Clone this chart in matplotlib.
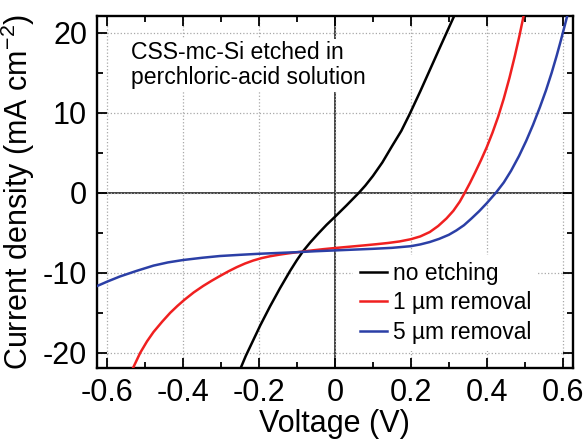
import matplotlib
matplotlib.use("Agg")
import matplotlib.pyplot as plt
from matplotlib.ticker import MultipleLocator

plt.rcParams['font.family'] = ['Liberation Sans', 'DejaVu Sans']
plt.rcParams['mathtext.fontset'] = 'custom'
plt.rcParams['mathtext.rm'] = 'Liberation Sans'
plt.rcParams['axes.unicode_minus'] = False

# J-V curves (V in volts, J in mA/cm2)
v_none = [-0.25, -0.235, -0.215, -0.197, -0.171, -0.145, -0.118, -0.10, -0.084,
          -0.065, -0.044, -0.022, 0.0, 0.03, 0.063, 0.08, 0.10, 0.125, 0.15,
          0.175, 0.197, 0.225, 0.25, 0.275, 0.295, 0.317]
j_none = [-22.1, -20.4, -18.4, -16.6, -14.2, -11.95, -9.75, -8.4, -7.3,
          -6.2, -5.1, -4.0, -3.0, -1.6, 0.0, 0.9, 2.1, 3.8, 5.8,
          7.75, 9.85, 12.7, 15.35, 18.0, 20.1, 22.4]

v_1um = [-0.534, -0.513, -0.495, -0.478, -0.455, -0.434, -0.415, -0.397, -0.372,
         -0.347, -0.325, -0.303, -0.28, -0.259, -0.237, -0.215, -0.193, -0.171,
         -0.145, -0.12, -0.09, -0.06, -0.03, 0.0, 0.04, 0.075, 0.11, 0.14, 0.17,
         0.2, 0.225, 0.25, 0.272, 0.294, 0.312, 0.329, 0.342, 0.356, 0.37, 0.385,
         0.40, 0.415, 0.43, 0.445, 0.46, 0.474, 0.486, 0.497]
j_1um = [-22.1, -20.0, -18.56, -17.4, -16.1, -15.0, -14.14, -13.39, -12.45,
         -11.64, -11.0, -10.4, -9.8, -9.3, -8.84, -8.46, -8.16, -7.93,
         -7.72, -7.55, -7.37, -7.2, -7.04, -6.9, -6.73, -6.58, -6.42, -6.27, -6.08,
         -5.8, -5.45, -4.9, -4.15, -3.2, -2.25, -1.1, 0.0, 1.25, 2.6, 4.1,
         5.7, 7.5, 9.5, 11.8, 14.4, 17.1, 19.6, 22.1]

v_5um = [-0.627, -0.6, -0.566, -0.522, -0.478, -0.44, -0.4, -0.35, -0.303, -0.25,
         -0.2, -0.15, -0.1, -0.05, 0.0, 0.05, 0.1, 0.15, 0.2, 0.225, 0.25, 0.275,
         0.30, 0.32, 0.34, 0.36, 0.38, 0.40, 0.424, 0.445, 0.464, 0.485, 0.504,
         0.522, 0.540, 0.556, 0.571, 0.584, 0.595, 0.606, 0.612]
j_5um = [-11.66, -11.1, -10.45, -9.75, -9.1, -8.7, -8.4, -8.12, -7.9, -7.75,
         -7.62, -7.52, -7.42, -7.3, -7.2, -7.1, -7.0, -6.88, -6.67, -6.45, -6.15, -5.75,
         -5.25, -4.7, -4.05, -3.2, -2.3, -1.3, 0.0, 1.3, 2.75, 4.6, 6.5,
         8.5, 10.7, 12.8, 15.0, 17.1, 19.0, 21.0, 22.1]

labels = ['no etching', '1 µm removal', '5 µm removal']
colors = ['black', '#f02020', '#2b3fa6']

xticks = [-0.6, -0.4, -0.2, 0, 0.2, 0.4, 0.6]
xticklabels = ['-0.6', '-0.4', '-0.2', '0', '0.2', '0.4', '0.6']
yticks = [-20, -10, 0, 10, 20]
yticklabels = ['-20', '-10', '0', '10', '20']

fig = plt.figure(figsize=(5.84, 4.4), dpi=100)
ax = fig.add_axes([0.166, 0.1636, 0.815, 0.80])

ax.grid(True, which='major', color='#a8a8a8', linestyle=':', linewidth=0.9)
ax.axhline(0, color='#222222', linewidth=1.2, zorder=1)
ax.axvline(0, color='#222222', linewidth=1.2, zorder=1)

for v, j, lab, c in zip([v_none, v_1um, v_5um], [j_none, j_1um, j_5um], labels, colors):
    ax.plot(v, j, color=c, linewidth=1.8, label=lab, zorder=3)

ax.set_xlim(-0.627, 0.627)
ax.set_ylim(-21.9, 22.1)
ax.set_xticks(xticks)
ax.set_xticklabels(xticklabels)
ax.set_yticks(yticks)
ax.set_yticklabels(yticklabels)
ax.xaxis.set_minor_locator(MultipleLocator(0.1))
ax.yaxis.set_minor_locator(MultipleLocator(5))
ax.tick_params(which='both', direction='in', top=True, right=True, labelsize=22, width=1.3)
ax.tick_params(which='major', length=7, pad=7)
ax.tick_params(which='minor', length=4)
for s in ax.spines.values():
    s.set_linewidth(1.7)

ax.set_xlabel('Voltage (V)', fontsize=22, labelpad=1)
ax.set_ylabel('Current density (mA cm$^{\\mathregular{-2}}$)', fontsize=22, labelpad=4)

ax.text(0.072, 0.928, 'CSS-mc-Si etched in\nperchloric-acid solution', transform=ax.transAxes,
        fontsize=16.6, va='top', ha='left', linespacing=1.1, zorder=4,
        bbox=dict(facecolor='white', edgecolor='none', pad=2))

leg = ax.legend(loc='center', bbox_to_anchor=(0.733, 0.185), fontsize=16.4, frameon=True,
                handlelength=1.2, handletextpad=0.25, labelspacing=0.28, borderpad=0.3)
leg.get_frame().set_facecolor('white')
leg.get_frame().set_edgecolor('none')
leg.get_frame().set_alpha(1)

fig.savefig('out.png', dpi=100)
